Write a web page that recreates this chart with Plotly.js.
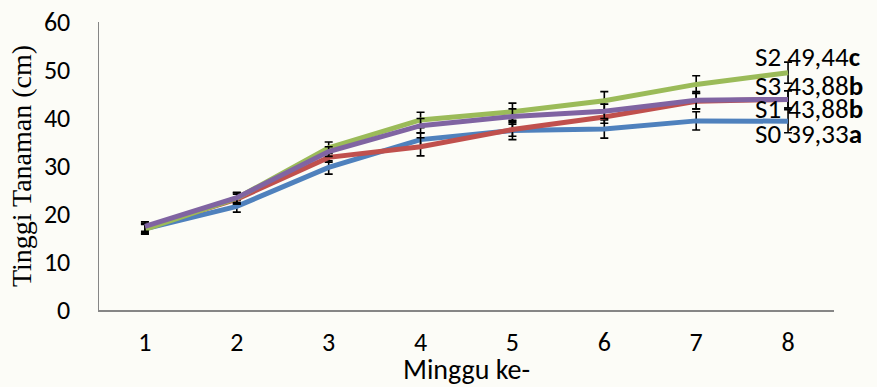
<!DOCTYPE html>
<html>
<head>
<meta charset="utf-8">
<script src="https://cdn.plot.ly/plotly-3.0.1.min.js"></script>
<style>html,body{margin:0;padding:0;background:#fcfcf7;}</style>
</head>
<body>
<div id="chart" style="width:877px;height:387px;"></div>
<script>
// Data
const weeks = [1, 2, 3, 4, 5, 6, 7, 8];
const seriesNames = ["S0", "S1", "S2", "S3"];
const s0 = [16.9, 21.6, 29.7, 35.5, 37.4, 37.7, 39.4, 39.33];
const s1 = [17.1, 23.1, 31.8, 34.0, 37.6, 40.2, 43.5, 43.88];
const s2 = [16.8, 23.3, 33.8, 39.6, 41.3, 43.6, 47.0, 49.44];
const s3 = [17.4, 23.4, 33.0, 38.4, 40.3, 41.4, 43.7, 43.88];
const e0 = [1.0, 1.2, 1.4, 1.4, 1.9, 1.9, 1.9, 2.4];
const e1 = [1.0, 1.0, 1.0, 1.9, 1.4, 1.3, 1.6, 1.8];
const e2 = [1.0, 1.2, 1.2, 1.6, 1.8, 1.9, 1.8, 2.2];
const e3 = [1.0, 1.0, 1.0, 1.5, 1.6, 1.5, 1.8, 1.8];
const endLabels = ["S0 39,33<b>a</b>", "S1 43,88<b>b</b>", "S2 49,44<b>c</b>", "S3 43,88<b>b</b>"];
const xTickLabels = ["1", "2", "3", "4", "5", "6", "7", "8"];

const values = [s0, s1, s2, s3];
const errors = [e0, e1, e2, e3];
const colors = ["#4f81bd", "#c0504d", "#9bbb59", "#8064a2"];
const labelShift = [-12, -9, 16, 14];

const fam = "Carlito, Lato, 'Open Sans', sans-serif";
const tickFont = {family: fam, size: 26, color: "#000"};

const traces = values.map((v, i) => ({
  x: weeks, y: v, name: seriesNames[i], type: "scatter", mode: "lines",
  line: {color: colors[i], width: 5},
  error_y: {type: "data", array: errors[i], visible: true, color: "#000", thickness: 1.6, width: 4}
}));

const annotations = values.map((v, i) => ({
  x: weeks[weeks.length - 1], y: v[v.length - 1], xref: "x", yref: "y",
  text: endLabels[i], showarrow: false, xanchor: "left", yanchor: "middle",
  xshift: -34, yshift: labelShift[i], borderpad: 0,
  font: {family: fam, size: 27, color: "#000"}
}));

const layout = {
  width: 877, height: 387,
  margin: {l: 99, r: 43, t: 22, b: 77},
  paper_bgcolor: "#fcfcf7", plot_bgcolor: "rgba(0,0,0,0)",
  showlegend: false,
  xaxis: {
    range: [0.5, 8.5], tickvals: weeks, ticktext: xTickLabels, automargin: false,
    showgrid: false, zeroline: false, showline: true, linecolor: "#868686", linewidth: 1.5,
    ticks: "", ticklabelstandoff: 8, tickfont: tickFont,
    title: {text: "Minggu ke-", font: {family: fam, size: 28, color: "#000"}, standoff: 5}
  },
  yaxis: {
    range: [0, 60], dtick: 10, automargin: false,
    showgrid: false, zeroline: false, showline: true, linecolor: "#868686", linewidth: 1.5,
    ticks: "", ticklabelstandoff: 22, tickfont: tickFont,
    title: {text: "Tinggi Tanaman (cm)", font: {family: "Times New Roman, Liberation Serif, DejaVu Serif, serif", size: 28, color: "#000"}, standoff: 4}
  },
  annotations: annotations
};

Plotly.newPlot("chart", traces, layout, {displayModeBar: false, staticPlot: true});
</script>
</body>
</html>
